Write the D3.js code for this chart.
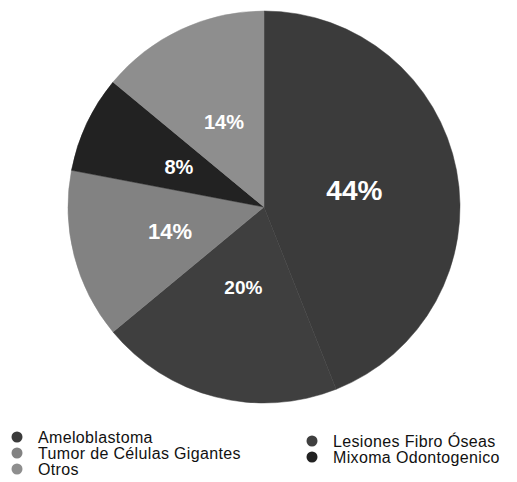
<!DOCTYPE html>
<head>
  <meta charset="UTF-8">
  <title>pie</title>
  <style>
  body, html, svg{
    padding: 0;
    margin: 0;
    background: #fff;
  }
  text{
    font-family: "Liberation Sans", Arial, sans-serif;
  }
  </style>
</head>
<body>
  <script src="https://cdn.jsdelivr.net/npm/d3@7"></script>
  <script type="text/javascript">
  var width = 517;
  var height = 482;

  // datos (orden horario desde arriba)
  var categories = ['Ameloblastoma', 'Lesiones Fibro Óseas', 'Tumor de Células Gigantes', 'Mixoma Odontogenico', 'Otros'];
  var values = [44, 20, 14, 8, 14];
  var colors = ['#3b3b3b', '#3f3f3f', '#828282', '#222222', '#8e8e8e'];
  var labelSizes = [28, 19, 22, 20, 20];
  var labelRadius = [92, 83, 97, 94, 94];

  // leyenda: columna izquierda y derecha
  var legendLeft = ['Ameloblastoma', 'Tumor de Células Gigantes', 'Otros'];
  var legendRight = ['Lesiones Fibro Óseas', 'Mixoma Odontogenico'];

  var svg = d3.select('body')
    .append('svg')
    .attr('width', width)
    .attr('height', height);

  var cx = 264, cy = 207, r = 196;

  var pie = d3.pie().sort(null).value(function(d){ return d; });
  var arcs = pie(values);
  var arc = d3.arc().innerRadius(0).outerRadius(r);

  var g = svg.append('g').attr('transform', 'translate(' + cx + ',' + cy + ')');

  g.selectAll('path')
    .data(arcs)
    .enter()
    .append('path')
    .attr('d', arc)
    .attr('fill', function(d, i){ return colors[i]; })
    .attr('stroke', function(d, i){ return colors[i]; })
    .attr('stroke-width', 0.5);

  g.selectAll('text')
    .data(arcs)
    .enter()
    .append('text')
    .attr('transform', function(d, i){
      var la = d3.arc().innerRadius(labelRadius[i]).outerRadius(labelRadius[i]);
      return 'translate(' + la.centroid(d) + ')';
    })
    .attr('text-anchor', 'middle')
    .attr('dy', '0.36em')
    .attr('fill', '#fff')
    .attr('font-weight', 'bold')
    .attr('font-size', function(d, i){ return labelSizes[i]; })
    .text(function(d){ return d.data + '%'; });

  // leyenda
  var colorOf = d3.scaleOrdinal().domain(categories).range(colors);

  function legend(items, x, y0, step){
    var lg = svg.append('g');
    var row = lg.selectAll('g')
      .data(items)
      .enter()
      .append('g')
      .attr('transform', function(d, i){ return 'translate(' + x + ',' + (y0 + i * step) + ')'; });
    row.append('circle')
      .attr('r', 5.5)
      .attr('fill', function(d){ return colorOf(d); });
    row.append('text')
      .attr('x', 21)
      .attr('dy', '0.35em')
      .attr('font-size', 16)
      .attr('letter-spacing', 0.35)
      .attr('fill', '#111')
      .text(function(d){ return d; });
  }
  legend(legendLeft, 17, 437, 16);
  legend(legendRight, 312, 441, 16);
  </script>
</body>
</html>
